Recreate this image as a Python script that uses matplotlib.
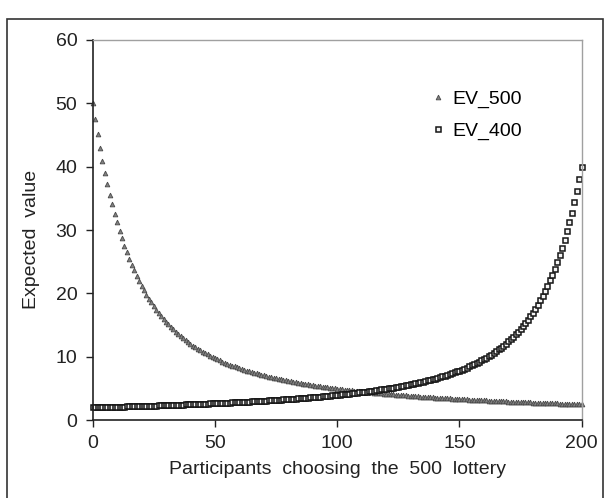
import matplotlib
matplotlib.use("Agg")
import matplotlib.pyplot as plt
from matplotlib.patches import Rectangle
import numpy as np

plt.rcParams["font.family"] = ["Liberation Sans", "DejaVu Sans"]

# participants choosing the 500 lottery (0..200)
participants = np.arange(0, 201)

ev_500 = [
    50.00, 47.50, 45.17, 42.99, 40.95, 39.05, 37.26, 35.60, 34.03, 32.57,
    31.19, 29.90, 28.69, 27.54, 26.47, 25.46, 24.51, 23.61, 22.76, 21.96,
    21.20, 20.49, 19.81, 19.17, 18.56, 17.99, 17.44, 16.92, 16.43, 15.96,
    15.51, 15.09, 14.68, 14.30, 13.93, 13.58, 13.24, 12.92, 12.61, 12.32,
    12.03, 11.76, 11.50, 11.25, 11.01, 10.78, 10.56, 10.35, 10.15, 9.95,
    9.76, 9.58, 9.40, 9.23, 9.06, 8.90, 8.75, 8.60, 8.46, 8.32,
    8.18, 8.05, 7.93, 7.80, 7.68, 7.57, 7.46, 7.35, 7.24, 7.14,
    7.04, 6.94, 6.85, 6.75, 6.66, 6.58, 6.49, 6.41, 6.33, 6.25,
    6.17, 6.10, 6.02, 5.95, 5.88, 5.81, 5.75, 5.68, 5.62, 5.56,
    5.49, 5.43, 5.38, 5.32, 5.26, 5.21, 5.15, 5.10, 5.05, 5.00,
    4.95, 4.90, 4.85, 4.81, 4.76, 4.72, 4.67, 4.63, 4.59, 4.55,
    4.50, 4.46, 4.42, 4.39, 4.35, 4.31, 4.27, 4.24, 4.20, 4.17,
    4.13, 4.10, 4.07, 4.03, 4.00, 3.97, 3.94, 3.91, 3.88, 3.85,
    3.82, 3.79, 3.76, 3.73, 3.70, 3.68, 3.65, 3.62, 3.60, 3.57,
    3.55, 3.52, 3.50, 3.47, 3.45, 3.42, 3.40, 3.38, 3.36, 3.33,
    3.31, 3.29, 3.27, 3.25, 3.23, 3.21, 3.18, 3.16, 3.14, 3.12,
    3.11, 3.09, 3.07, 3.05, 3.03, 3.01, 2.99, 2.98, 2.96, 2.94,
    2.92, 2.91, 2.89, 2.87, 2.86, 2.84, 2.82, 2.81, 2.79, 2.78,
    2.76, 2.75, 2.73, 2.72, 2.70, 2.69, 2.67, 2.66, 2.65, 2.63,
    2.62, 2.60, 2.59, 2.58, 2.56, 2.55, 2.54, 2.53, 2.51, 2.50,
    2.49,
]

ev_400 = [
    1.99, 2.00, 2.01, 2.02, 2.03, 2.04, 2.05, 2.06, 2.07, 2.08,
    2.09, 2.11, 2.12, 2.13, 2.14, 2.15, 2.16, 2.17, 2.19, 2.20,
    2.21, 2.22, 2.23, 2.25, 2.26, 2.27, 2.29, 2.30, 2.31, 2.33,
    2.34, 2.35, 2.37, 2.38, 2.40, 2.41, 2.42, 2.44, 2.45, 2.47,
    2.48, 2.50, 2.52, 2.53, 2.55, 2.56, 2.58, 2.60, 2.61, 2.63,
    2.65, 2.67, 2.68, 2.70, 2.72, 2.74, 2.76, 2.78, 2.80, 2.82,
    2.84, 2.86, 2.88, 2.90, 2.92, 2.94, 2.96, 2.99, 3.01, 3.03,
    3.05, 3.08, 3.10, 3.12, 3.15, 3.17, 3.20, 3.23, 3.25, 3.28,
    3.31, 3.33, 3.36, 3.39, 3.42, 3.45, 3.48, 3.51, 3.54, 3.57,
    3.60, 3.64, 3.67, 3.70, 3.74, 3.77, 3.81, 3.85, 3.88, 3.92,
    3.96, 4.00, 4.04, 4.08, 4.12, 4.17, 4.21, 4.26, 4.30, 4.35,
    4.40, 4.44, 4.49, 4.55, 4.60, 4.65, 4.71, 4.76, 4.82, 4.88,
    4.94, 5.00, 5.06, 5.13, 5.19, 5.26, 5.33, 5.40, 5.48, 5.55,
    5.63, 5.71, 5.79, 5.88, 5.97, 6.05, 6.15, 6.24, 6.34, 6.44,
    6.55, 6.65, 6.77, 6.88, 7.00, 7.12, 7.25, 7.38, 7.52, 7.66,
    7.81, 7.96, 8.12, 8.28, 8.45, 8.63, 8.81, 9.00, 9.20, 9.41,
    9.63, 9.85, 10.09, 10.33, 10.59, 10.86, 11.14, 11.44, 11.75, 12.07,
    12.41, 12.77, 13.14, 13.54, 13.95, 14.39, 14.85, 15.34, 15.85, 16.39,
    16.96, 17.57, 18.21, 18.89, 19.61, 20.37, 21.18, 22.04, 22.95, 23.92,
    24.95, 26.05, 27.23, 28.48, 29.81, 31.24, 32.76, 34.39, 36.13, 38.00,
    40.00,
]

x_ticks = [0, 50, 100, 150, 200]
y_ticks = [0, 10, 20, 30, 40, 50, 60]

fig = plt.figure(figsize=(6.09, 4.98), dpi=100)
ax = fig.add_axes([0.1522, 0.1566, 0.803, 0.7631])

ax.plot(participants, ev_500, linestyle="none", marker="^", ms=3.4,
        mfc="#808080", mec="#4a4a4a", mew=0.6, label="EV_500", clip_on=False)
ax.plot(participants, ev_400, linestyle="none", marker="s", ms=3.6,
        mfc="#f4f4f4", mec="#151515", mew=1.1, label="EV_400", clip_on=False)

ax.set_xlim(0, 200)
ax.set_ylim(0, 60)
ax.set_xticks(x_ticks)
ax.set_yticks(y_ticks)
ax.tick_params(direction="out", length=5, width=1, colors="#222222",
               labelsize=14, pad=6)
ax.set_xlabel("Participants  choosing  the  500  lottery", fontsize=14,
              color="#222222", labelpad=6)
ax.set_ylabel("Expected  value", fontsize=14, color="#222222")
ax.yaxis.set_label_coords(-0.108, 0.474)

for side in ("left", "bottom"):
    ax.spines[side].set_color("#222222")
    ax.spines[side].set_linewidth(1.2)
for side in ("top", "right"):
    ax.spines[side].set_color("#a0a0a0")
    ax.spines[side].set_linewidth(1.0)

ax.legend(loc="upper left", bbox_to_anchor=(0.655, 0.915), frameon=False,
          fontsize=14, handlelength=0.8, handletextpad=0.3, labelspacing=0.75,
          markerscale=1.0)

# outer frame around the whole picture
fig.add_artist(Rectangle((7 / 609, -0.01), 596 / 609, 1.0 - 14 / 498,
                         transform=fig.transFigure, fill=False,
                         edgecolor="#333333", linewidth=1.2))

fig.savefig("out.png", dpi=100)
